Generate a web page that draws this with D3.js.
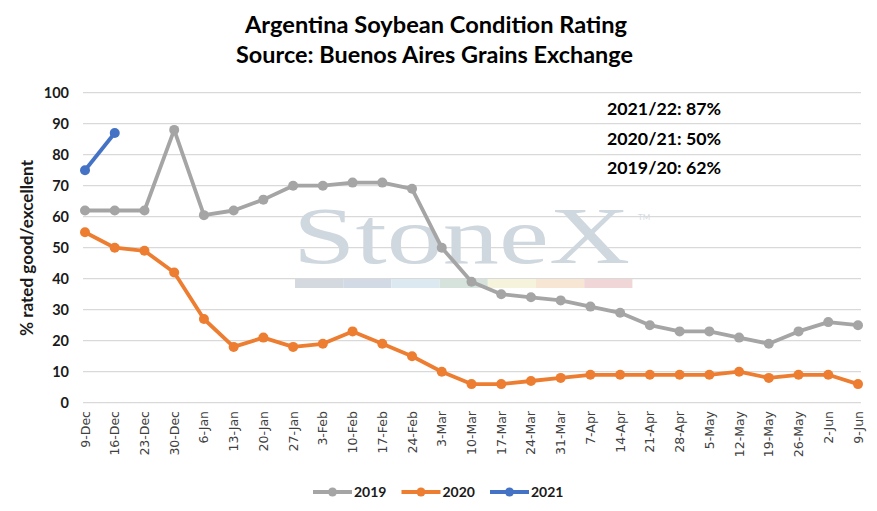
<!DOCTYPE html>
<html>
<head>
<meta charset="utf-8">
<title>Argentina Soybean Condition Rating</title>
<style>
  html, body { margin: 0; padding: 0; background: #fff; }
  svg { display: block; font-family: Lato, "Open Sans", sans-serif; }
  .grid line { stroke: #d9d9d9; stroke-width: 1.3; }
  .yAxis text { font-size: 14.5px; font-weight: bold; fill: #1a1a1a; }
  .xAxis text { font-size: 12.5px; fill: #404040; font-family: "DejaVu Sans", sans-serif; }
  .title { font-size: 22px; font-weight: bold; fill: #000; }
  .note { font-size: 17px; font-weight: bold; fill: #000; }
  .legend text { font-size: 14px; font-weight: bold; fill: #1a1a1a; }
</style>
<script src="https://cdn.jsdelivr.net/npm/d3@7"></script>
</head>
<body>
<div id="main"></div>
<script>
var weeks = ["9-Dec","16-Dec","23-Dec","30-Dec","6-Jan","13-Jan","20-Jan","27-Jan","3-Feb","10-Feb",
             "17-Feb","24-Feb","3-Mar","10-Mar","17-Mar","24-Mar","31-Mar","7-Apr","14-Apr","21-Apr",
             "28-Apr","5-May","12-May","19-May","26-May","2-Jun","9-Jun"];
var y2019 = [62,62,62,88,60.5,62,65.5,70,70,71,71,69,50,39,35,34,33,31,29,25,23,23,21,19,23,26,25];
var y2020 = [55,50,49,42,27,18,21,18,19,23,19,15,10,6,6,7,8,9,9,9,9,9,10,8,9,9,6];
var y2021 = [75,87];
var yTicks = [0,10,20,30,40,50,60,70,80,90,100];
var notes = ["2021/22: 87%", "2020/21: 50%", "2019/20: 62%"];

var width = 877, height = 511;
var series = [
  {name: "2019", values: y2019, color: "#a5a5a5"},
  {name: "2020", values: y2020, color: "#ed7d31"},
  {name: "2021", values: y2021, color: "#4472c4"}
];

var svg = d3.select("#main").append("svg")
  .attr("width", width).attr("height", height);

var x = d3.scalePoint().domain(weeks).range([85, 858]);
var y = d3.scaleLinear().domain([0, 100]).range([402.7, 92.7]);

// gridlines
svg.append("g").attr("class", "grid")
  .selectAll("line").data(yTicks).enter().append("line")
  .attr("x1", 83).attr("x2", 861)
  .attr("y1", function(d) { return y(d); })
  .attr("y2", function(d) { return y(d); });

// watermark
var wm = svg.append("g").attr("class", "watermark");
wm.append("text")
  .attr("x", 293).attr("y", 263)
  .attr("font-family", "Liberation Serif, serif")
  .attr("font-size", 80)
  .attr("fill", "#cfd7df")
  .attr("textLength", 337)
  .attr("lengthAdjust", "spacingAndGlyphs")
  .text("StoneX");
wm.append("text")
  .attr("x", 638).attr("y", 220)
  .attr("font-size", 8).attr("fill", "#d5dbe1")
  .text("TM");
var bandColors = ["#d3d9df","#d2dbe5","#dde9f1","#d5e3dc","#f5f3dc","#f8e6d4","#f1d6d8"];
wm.selectAll("rect").data(bandColors).enter().append("rect")
  .attr("x", function(d, i) { return 295 + i * 48.2; })
  .attr("y", 279).attr("width", 48.2).attr("height", 9)
  .attr("fill", function(d) { return d; });

// y axis labels
svg.append("g").attr("class", "yAxis")
  .selectAll("text").data(yTicks).enter().append("text")
  .attr("x", 69).attr("y", function(d) { return y(d); })
  .attr("dy", "0.35em").attr("text-anchor", "end")
  .text(function(d) { return d; });

svg.append("text")
  .attr("transform", "translate(33,248) rotate(-90)")
  .attr("text-anchor", "middle")
  .attr("font-size", 16.5).attr("font-weight", "bold").attr("fill", "#1a1a1a")
  .attr("textLength", 176).attr("lengthAdjust", "spacingAndGlyphs")
  .text("% rated good/excellent");

// x axis labels
svg.append("g").attr("class", "xAxis")
  .selectAll("text").data(weeks).enter().append("text")
  .attr("transform", function(d) { return "translate(" + (x(d) + 4.5) + ",411) rotate(-90)"; })
  .attr("text-anchor", "end")
  .text(function(d) { return d; });

// lines
var line = d3.line()
  .x(function(d, i) { return x(weeks[i]); })
  .y(function(d) { return y(d); });

series.forEach(function(s) {
  var g = svg.append("g");
  g.append("path")
    .attr("d", line(s.values))
    .attr("fill", "none")
    .attr("stroke", s.color)
    .attr("stroke-width", 3.8)
    .attr("stroke-linejoin", "round");
  g.selectAll("circle").data(s.values).enter().append("circle")
    .attr("cx", function(d, i) { return x(weeks[i]); })
    .attr("cy", function(d) { return y(d); })
    .attr("r", 5)
    .attr("fill", s.color);
});

// titles
svg.append("text").attr("class", "title")
  .attr("x", 436).attr("y", 33).attr("text-anchor", "middle")
  .attr("textLength", 382).attr("lengthAdjust", "spacingAndGlyphs")
  .text("Argentina Soybean Condition Rating");
svg.append("text").attr("class", "title")
  .attr("x", 434.5).attr("y", 63).attr("text-anchor", "middle")
  .attr("textLength", 397).attr("lengthAdjust", "spacingAndGlyphs")
  .text("Source: Buenos Aires Grains Exchange");

// notes
svg.selectAll(".note").data(notes).enter().append("text")
  .attr("class", "note")
  .attr("x", 607).attr("y", function(d, i) { return 115 + i * 29.5; })
  .attr("textLength", 114).attr("lengthAdjust", "spacingAndGlyphs")
  .text(function(d) { return d; });

// legend
var lg = svg.append("g").attr("class", "legend");
series.forEach(function(s, i) {
  var lx = 313 + i * 88.5;
  lg.append("line")
    .attr("x1", lx).attr("x2", lx + 39)
    .attr("y1", 492).attr("y2", 492)
    .attr("stroke", s.color).attr("stroke-width", 3.8);
  lg.append("circle")
    .attr("cx", lx + 19.5).attr("cy", 492).attr("r", 4.5)
    .attr("fill", s.color);
  lg.append("text")
    .attr("x", lx + 41).attr("y", 492).attr("dy", "0.35em")
    .text(s.name);
});
</script>
</body>
</html>
